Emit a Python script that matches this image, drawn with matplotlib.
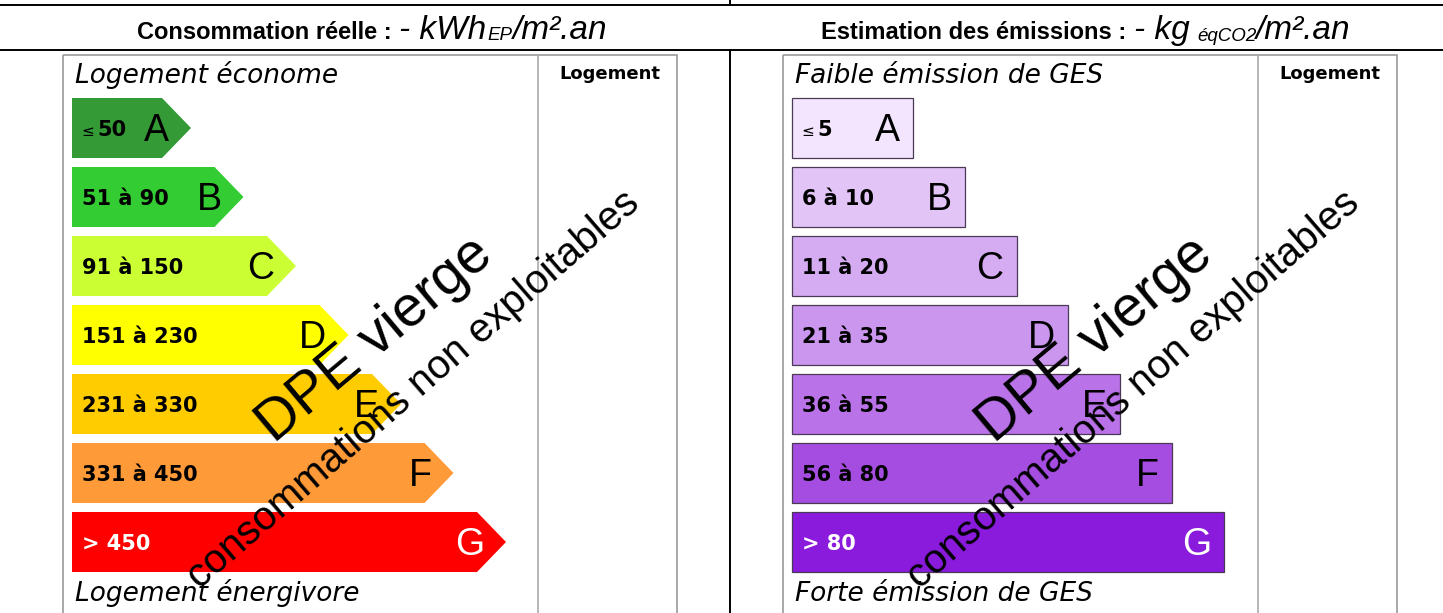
import matplotlib
matplotlib.use("Agg")
import matplotlib.pyplot as plt
from matplotlib.patches import Polygon, Rectangle

# DPE labels (energy + GES)
classes = ['A', 'B', 'C', 'D', 'E', 'F', 'G']
energy_ranges = ['≤ 50', '51 à 90', '91 à 150', '151 à 230',
                 '231 à 330', '331 à 450', '> 450']
ges_ranges = ['≤ 5', '6 à 10', '11 à 20', '21 à 35',
              '36 à 55', '56 à 80', '> 80']
energy_colors = ['#339a35', '#33cc33', '#ccff33', '#ffff00',
                 '#ffcc00', '#ff9a38', '#ff0000']
ges_colors = ['#f3e5fd', '#e2c4f6', '#d5abf2', '#cb96ee',
              '#ba72e8', '#a64de1', '#8a1bdd']

W, H = 1443, 613
fig = plt.figure(figsize=(W / 100, H / 100), dpi=100)
ax = fig.add_axes([0, 0, 1, 1])
ax.set_xlim(0, W)
ax.set_ylim(H, 0)
ax.axis('off')
renderer = fig.canvas.get_renderer()


def seq_text(pieces, cx, base):
    # draw text pieces one after another, centred on cx
    texts = []
    total = 0
    for s, kw, dy, gap in pieces:
        t = ax.text(0, base + dy, s, va='baseline', ha='left', **kw)
        w = t.get_window_extent(renderer).width
        texts.append((t, w, gap))
        total += w + gap
    x = cx - total / 2
    for t, w, gap in texts:
        t.set_x(x)
        x += w + gap


# frame lines
ax.plot([0, W], [5.3, 5.3], color='black', lw=1.4)
ax.plot([0, W], [50, 50], color='black', lw=1.4)
ax.plot([730, 730], [0, 5.3], color='black', lw=1.4)
ax.plot([730, 730], [50, H], color='black', lw=1.4)

bold = dict(family='Liberation Sans', fontweight='bold', fontsize=17)
ital = dict(family='Liberation Sans', style='italic', fontsize=24)
sub = dict(family='Liberation Sans', style='italic', fontsize=13.5)
seq_text([('Consommation réelle :', bold, 0, 8),
          ('- kWh', ital, 0, 1),
          ('EP', sub, 1, 0),
          ('/m².an', ital, 0, 0)], 372, 39)
seq_text([('Estimation des émissions :', bold, 0, 8),
          ('- kg', ital, 0, 7),
          ('éqCO2', sub, 2, 0),
          ('/m².an', ital, 0, 0)], 1086, 39)


def panel(x0, ranges, colors, arrow, first_w, step, top_lbl, bot_lbl):
    box_l, box_r, div = x0 - 9, x0 + 605, x0 + 466
    ax.add_patch(Rectangle((box_l, 55), box_r - box_l, 600, fill=False,
                           edgecolor='#9a9a9a', lw=1.2))
    ax.plot([div, div], [55, H + 5], color='#aaaaaa', lw=1.2)
    ax.text((div + box_r) / 2 + 2, 79, 'Logement', ha='center', va='baseline',
            family='DejaVu Sans', fontweight='bold', fontsize=13)
    ax.text(x0 + 3, 83, top_lbl, ha='left', va='baseline',
            family='DejaVu Sans', style='italic', fontsize=19)
    ax.text(x0 + 3, 601, bot_lbl, ha='left', va='baseline',
            family='DejaVu Sans', style='italic', fontsize=19)
    for i, (c, r, col) in enumerate(zip(classes, ranges, colors)):
        top = 98 + 69 * i
        bot = top + 60
        mid = (top + bot) / 2
        end = x0 + first_w + step * i
        if arrow:
            ax.add_patch(Polygon([(x0, top), (end, top), (end + 29, mid),
                                  (end, bot), (x0, bot)], closed=True,
                                 facecolor=col, edgecolor='none'))
            lx = end + 7
        else:
            ax.add_patch(Rectangle((x0, top), end - x0, 60, facecolor=col,
                                   edgecolor='#4a3a55', lw=0.9))
            lx = end - 13
        tc = 'white' if i == len(classes) - 1 else 'black'
        if r.startswith('≤'):
            ax.text(x0 + 9, mid + 7.6, '≤', ha='left', va='baseline',
                    family='DejaVu Sans', fontsize=11, color=tc)
            ax.text(x0 + 25, mid + 7.6, r[2:], ha='left', va='baseline',
                    family='DejaVu Sans', fontweight='bold', fontsize=15,
                    color=tc)
        else:
            ax.text(x0 + 10, mid + 7.6, r, ha='left', va='baseline',
                    family='DejaVu Sans', fontweight='bold', fontsize=15,
                    color=tc)
        ax.text(lx, mid + 13.4, c, ha='right', va='baseline',
                family='Liberation Sans', fontsize=27, color=tc)


panel(72, energy_ranges, energy_colors, True, 90, 52.5,
      'Logement économe', 'Logement énergivore')
panel(792, ges_ranges, ges_colors, False, 121, 51.8,
      'Faible émission de GES', 'Forte émission de GES')

# "DPE vierge" watermark on both panels
for dx in (0, 720):
    ax.text(375 + dx, 340, 'DPE vierge', rotation=40, rotation_mode='anchor',
            ha='center', va='center', family='Liberation Sans', fontsize=41,
            zorder=10)
    ax.text(413 + dx, 390, 'consommations non exploitables', rotation=41,
            rotation_mode='anchor', ha='center', va='center',
            family='Liberation Sans', fontsize=29, zorder=10)

fig.savefig('out.png', dpi=100)
